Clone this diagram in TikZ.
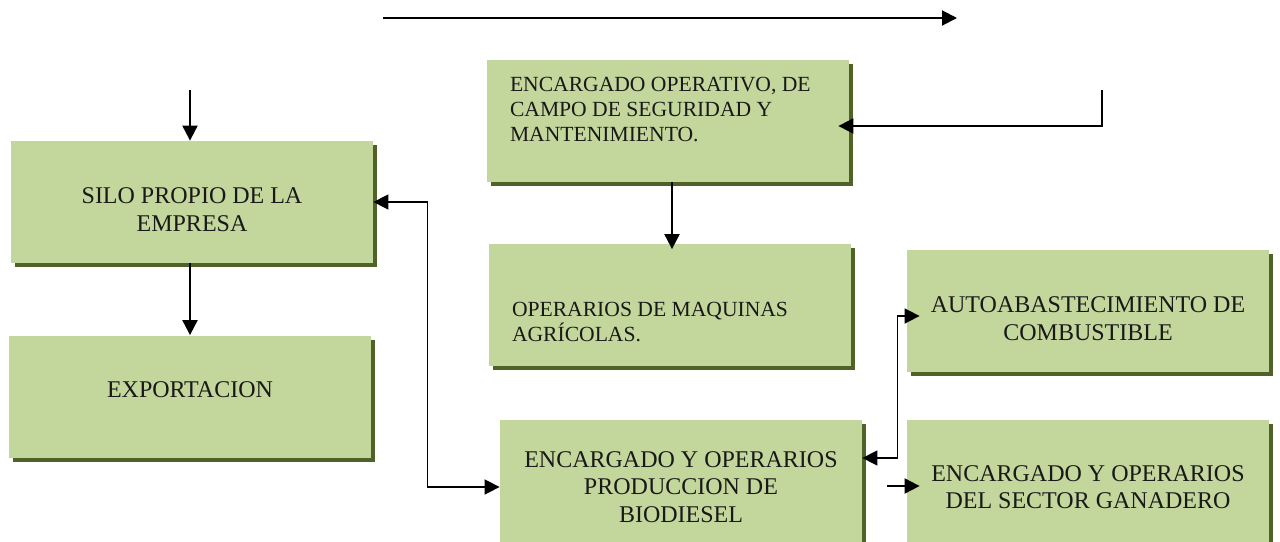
\documentclass[tikz,border=0pt]{standalone}
\usepackage{fontspec}
\setmainfont{Liberation Serif}
\usepackage{tikz}
\usetikzlibrary{arrows.meta}
\usetikzlibrary{positioning,shadows}
\definecolor{verdecaja}{HTML}{C3D69B}
\definecolor{verdesombra}{HTML}{4F6228}
\tikzset{
	caja/.style={fill=verdecaja,draw=none,inner sep=0pt,minimum width=181pt,minimum height=61pt,
		drop shadow={shadow xshift=2pt,shadow yshift=-2pt,fill=verdesombra,opacity=1}},
	texto/.style={align=center,inner sep=0pt,text=black!90,font=\fontsize{12}{13.8}\selectfont},
	textochico/.style={align=left,inner sep=0pt,text=black!90,font=\fontsize{10.8}{12.3}\selectfont},
	flecha/.style={line width=1pt,-{Triangle[length=7.5pt,width=7.5pt]}},
	dobleflecha/.style={line width=0.8pt,{Triangle[length=7.5pt,width=7.5pt]}-{Triangle[length=7.5pt,width=7.5pt]}}
}
\begin{document}
\begin{tikzpicture}[x=0.5pt,y=-0.5pt]
			\path[use as bounding box,clip] (0,0) rectangle (1280,541);
			% cajas
			\node[caja,label={[texto,yshift=-3.75pt]center:SILO PROPIO DE LA\\EMPRESA}] (silo) at (192,202) {};
			\node[caja,label={[texto,yshift=3.25pt]center:EXPORTACION}] (expo) at (190,396.5) {};
			\node[caja,label={[textochico,anchor=west,xshift=11.5pt,yshift=5.5pt]west:{ENCARGADO OPERATIVO, DE\\CAMPO DE SEGURIDAD Y\\MANTENIMIENTO.}}] (operativo) at (668,120.5) {};
			\node[caja,label={[textochico,anchor=west,xshift=11.5pt,yshift=-8.75pt]west:{OPERARIOS DE MAQUINAS\\AGRÍCOLAS.}}] (operarios) at (670,304.5) {};
			\node[caja,label={[texto,yshift=-4pt]center:AUTOABASTECIMIENTO DE\\COMBUSTIBLE}] (auto) at (1088,310.5) {};
			\node[caja,minimum height=67pt,label={[texto]center:ENCARGADO Y OPERARIOS\\PRODUCCION DE\\BIODIESEL}] (biodiesel) at (681,487) {};
			\node[caja,minimum height=67pt,label={[texto]center:ENCARGADO Y OPERARIOS\\DEL SECTOR GANADERO}] (ganadero) at (1088,487) {};
			% extremos libres
			\coordinate (superiorIni) at (383,18);
			\coordinate (superiorFin) at (957,18);
			\coordinate (entradaSilo) at (190,90);
			\coordinate (entradaOper) at (1102,90);
			\coordinate (entradaGan) at (887,486);
			% conectores
			\draw[flecha] (superiorIni) -- (superiorFin);
			\draw[flecha] (entradaSilo) -- (entradaSilo |- silo.north);
			\draw[flecha] (expo.north |- silo.south) -- (expo.north);
			\draw[flecha] (entradaOper) |- ([xshift=-5.5pt,yshift=-2.75pt]operativo.east);
			\draw[flecha] ([xshift=2pt]operativo.south) -- ([xshift=2pt,yshift=-3pt]operativo.south |- operarios.north);
			\draw[dobleflecha] (silo.east) -- ++(54,0) |- (biodiesel.west);
			\draw[dobleflecha] ([yshift=14.5pt]biodiesel.east) -- ++(35,0) |- ([xshift=6.5pt,yshift=-2.75pt]auto.west);
			\draw[flecha] (entradaGan) -- ([xshift=6.5pt]entradaGan -| ganadero.west);
		\end{tikzpicture}
\end{document}
